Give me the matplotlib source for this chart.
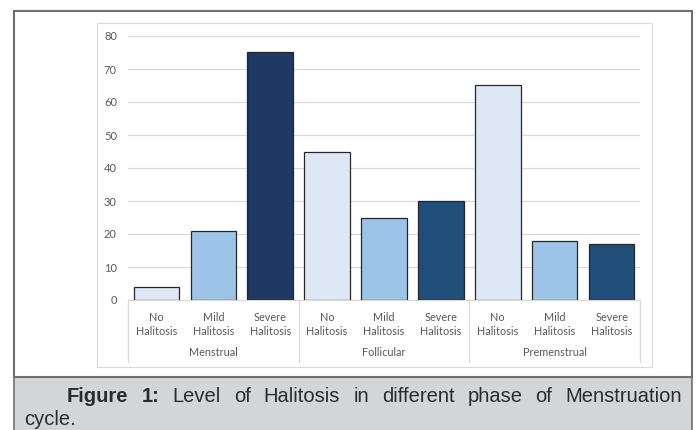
import numpy as np
import matplotlib.pyplot as plt
from matplotlib.patches import Rectangle
from matplotlib.transforms import blended_transform_factory

# data
fasi = ['Menstrual', 'Follicular', 'Premenstrual']
livelli = ['No\nHalitosis', 'Mild\nHalitosis', 'Severe\nHalitosis']
valori = [4, 21, 75, 45, 25, 30, 65, 18, 17]
colori = ['#dde8f4', '#9dc3e6', '#203864',
          '#dde8f4', '#9dc3e6', '#1f4e79',
          '#dde8f4', '#9dc3e6', '#1f4e79']
yticks = [0, 10, 20, 30, 40, 50, 60, 70, 80]

W, H = 697, 430
fig = plt.figure(figsize=(W / 100, H / 100), dpi=100)
fig.patch.set_facecolor('white')

font = 'Lato'
grigio = '#595959'

# cornici (in pixel della figura)
def px_rect(x0, y0, x1, y1, **kw):
    r = Rectangle((x0 / W, 1 - y1 / H), (x1 - x0) / W, (y1 - y0) / H,
                  transform=fig.transFigure, **kw)
    fig.patches.append(r)

px_rect(14, 377, 692, 432, facecolor='#d4d5d7', edgecolor='#6f6f6f', lw=1.2)
px_rect(14, 11, 692, 377, facecolor='none', edgecolor='#6f6f6f', lw=1.5)
px_rect(97, 23, 652, 367, facecolor='none', edgecolor='#d9d9d9', lw=0.8)

ax = fig.add_axes([128 / W, 1 - 300 / H, (640 - 128) / W, (300 - 36) / H])
x = np.arange(len(valori))
ax.bar(x, valori, width=0.8, color=colori, edgecolor='#262626', linewidth=0.9, zorder=3)
ax.set_xlim(-0.5, len(valori) - 0.5)
ax.set_ylim(0, 80)
ax.set_yticks(yticks)
ax.yaxis.grid(True, color='#d9d9d9', linewidth=0.9, zorder=0)
ax.set_axisbelow(True)
for s in ['top', 'right', 'left']:
    ax.spines[s].set_visible(False)
ax.spines['bottom'].set_color('#d9d9d9')
ax.tick_params(axis='y', length=0, pad=8, labelsize=8, labelcolor=grigio)
ax.tick_params(axis='x', length=0, pad=8.5, labelsize=7.8, labelcolor=grigio)
for t in ax.get_yticklabels():
    t.set_fontfamily(font)
ax.set_xticks(x)
ax.set_xticklabels(livelli * len(fasi), fontfamily=font, linespacing=1.3)

# etichette dei gruppi e separatori
tr = blended_transform_factory(ax.transData, ax.transAxes)
ylow = -(362 - 300) / 264
for i, f in enumerate(fasi):
    ax.text(i * 3 + 1, -(353 - 300) / 264, f, transform=tr, ha='center', va='center',
            fontsize=7.8, color=grigio, fontfamily=font)
for b in np.arange(len(fasi) + 1) * 3 - 0.5:
    ax.plot([b, b], [0, ylow], transform=tr, color='#d9d9d9', lw=0.9, clip_on=False)

# didascalia giustificata
parole = [('Figure', 'bold'), ('1:', 'bold'), ('Level', 'normal'), ('of', 'normal'),
          ('Halitosis', 'normal'), ('in', 'normal'), ('different', 'normal'),
          ('phase', 'normal'), ('of', 'normal'), ('Menstruation', 'normal')]
fig.canvas.draw()
r = fig.canvas.get_renderer()
testi = []
for w, peso in parole:
    t = fig.text(0, 1 - 402 / H, w, fontsize=14.5, fontweight=peso, color='#2b2b2b',
                 fontfamily='Liberation Sans', va='baseline')
    testi.append(t)
larg = [t.get_window_extent(r).width for t in testi]
x0, x1 = 67, 682
gap = (x1 - x0 - sum(larg)) / (len(testi) - 1)
pos = x0
for t, l in zip(testi, larg):
    t.set_x(pos / W)
    pos += l + gap
fig.text(24 / W, 1 - 425 / H, 'cycle.', fontsize=14.5, color='#2b2b2b',
         fontfamily='Liberation Sans', va='baseline')

fig.savefig('out.png', dpi=100)
